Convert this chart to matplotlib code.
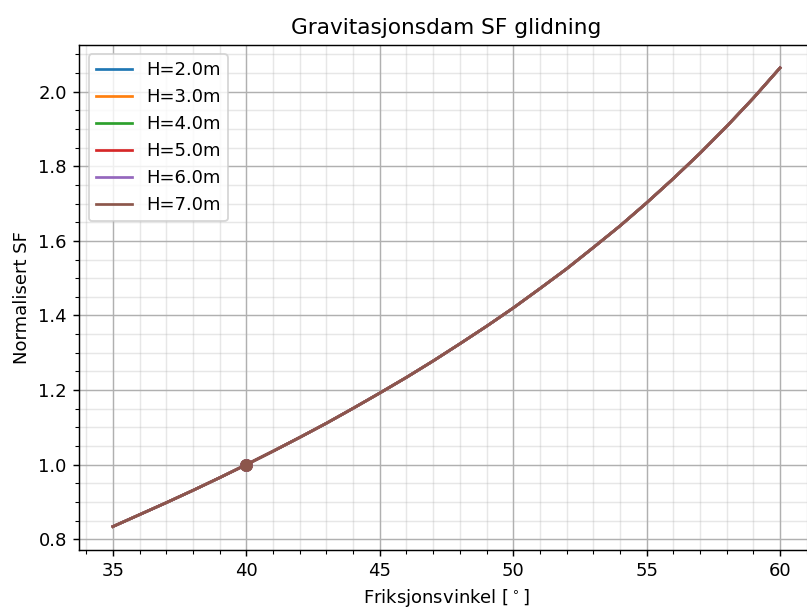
import numpy as np
import matplotlib
matplotlib.use("Agg")
import matplotlib.pyplot as plt
from matplotlib.ticker import AutoMinorLocator

# friction angle [deg] and normalised sliding safety factor (ref. 40 deg)
phi = [35, 36, 37, 38, 39, 40, 41, 42, 43, 44, 45, 46, 47,
       48, 49, 50, 51, 52, 53, 54, 55, 56, 57, 58, 59, 60]
sf_norm = [0.834, 0.866, 0.898, 0.931, 0.965, 1.000, 1.036, 1.073, 1.111,
           1.151, 1.192, 1.234, 1.278, 1.324, 1.371, 1.420, 1.472, 1.525,
           1.582, 1.640, 1.702, 1.767, 1.835, 1.907, 1.983, 2.064]
heights = [2.0, 3.0, 4.0, 5.0, 6.0, 7.0]
phi_ref = 40
sf_ref = 1.0

fig = plt.figure(figsize=(807 / 130, 608 / 130), dpi=130)
ax = fig.add_axes([0.0985, 0.0962, 0.9095, 0.830])

for h in heights:
    line, = ax.plot(phi, sf_norm, label=f"H={h}m")
    ax.plot(phi_ref, sf_ref, "o", color=line.get_color(), markersize=6)

ax.set_title("Gravitasjonsdam SF glidning")
ax.set_xlabel(r"Friksjonsvinkel [$^\circ$]")
ax.set_ylabel("Normalisert SF")
ax.xaxis.set_minor_locator(AutoMinorLocator(5))
ax.yaxis.set_minor_locator(AutoMinorLocator(4))
ax.grid(which="major", color="#b0b0b0", linewidth=0.8)
ax.grid(which="minor", color="#b0b0b0", linewidth=0.8, alpha=0.3)
ax.legend(loc="upper left")

fig.savefig("out.png", dpi=130)
